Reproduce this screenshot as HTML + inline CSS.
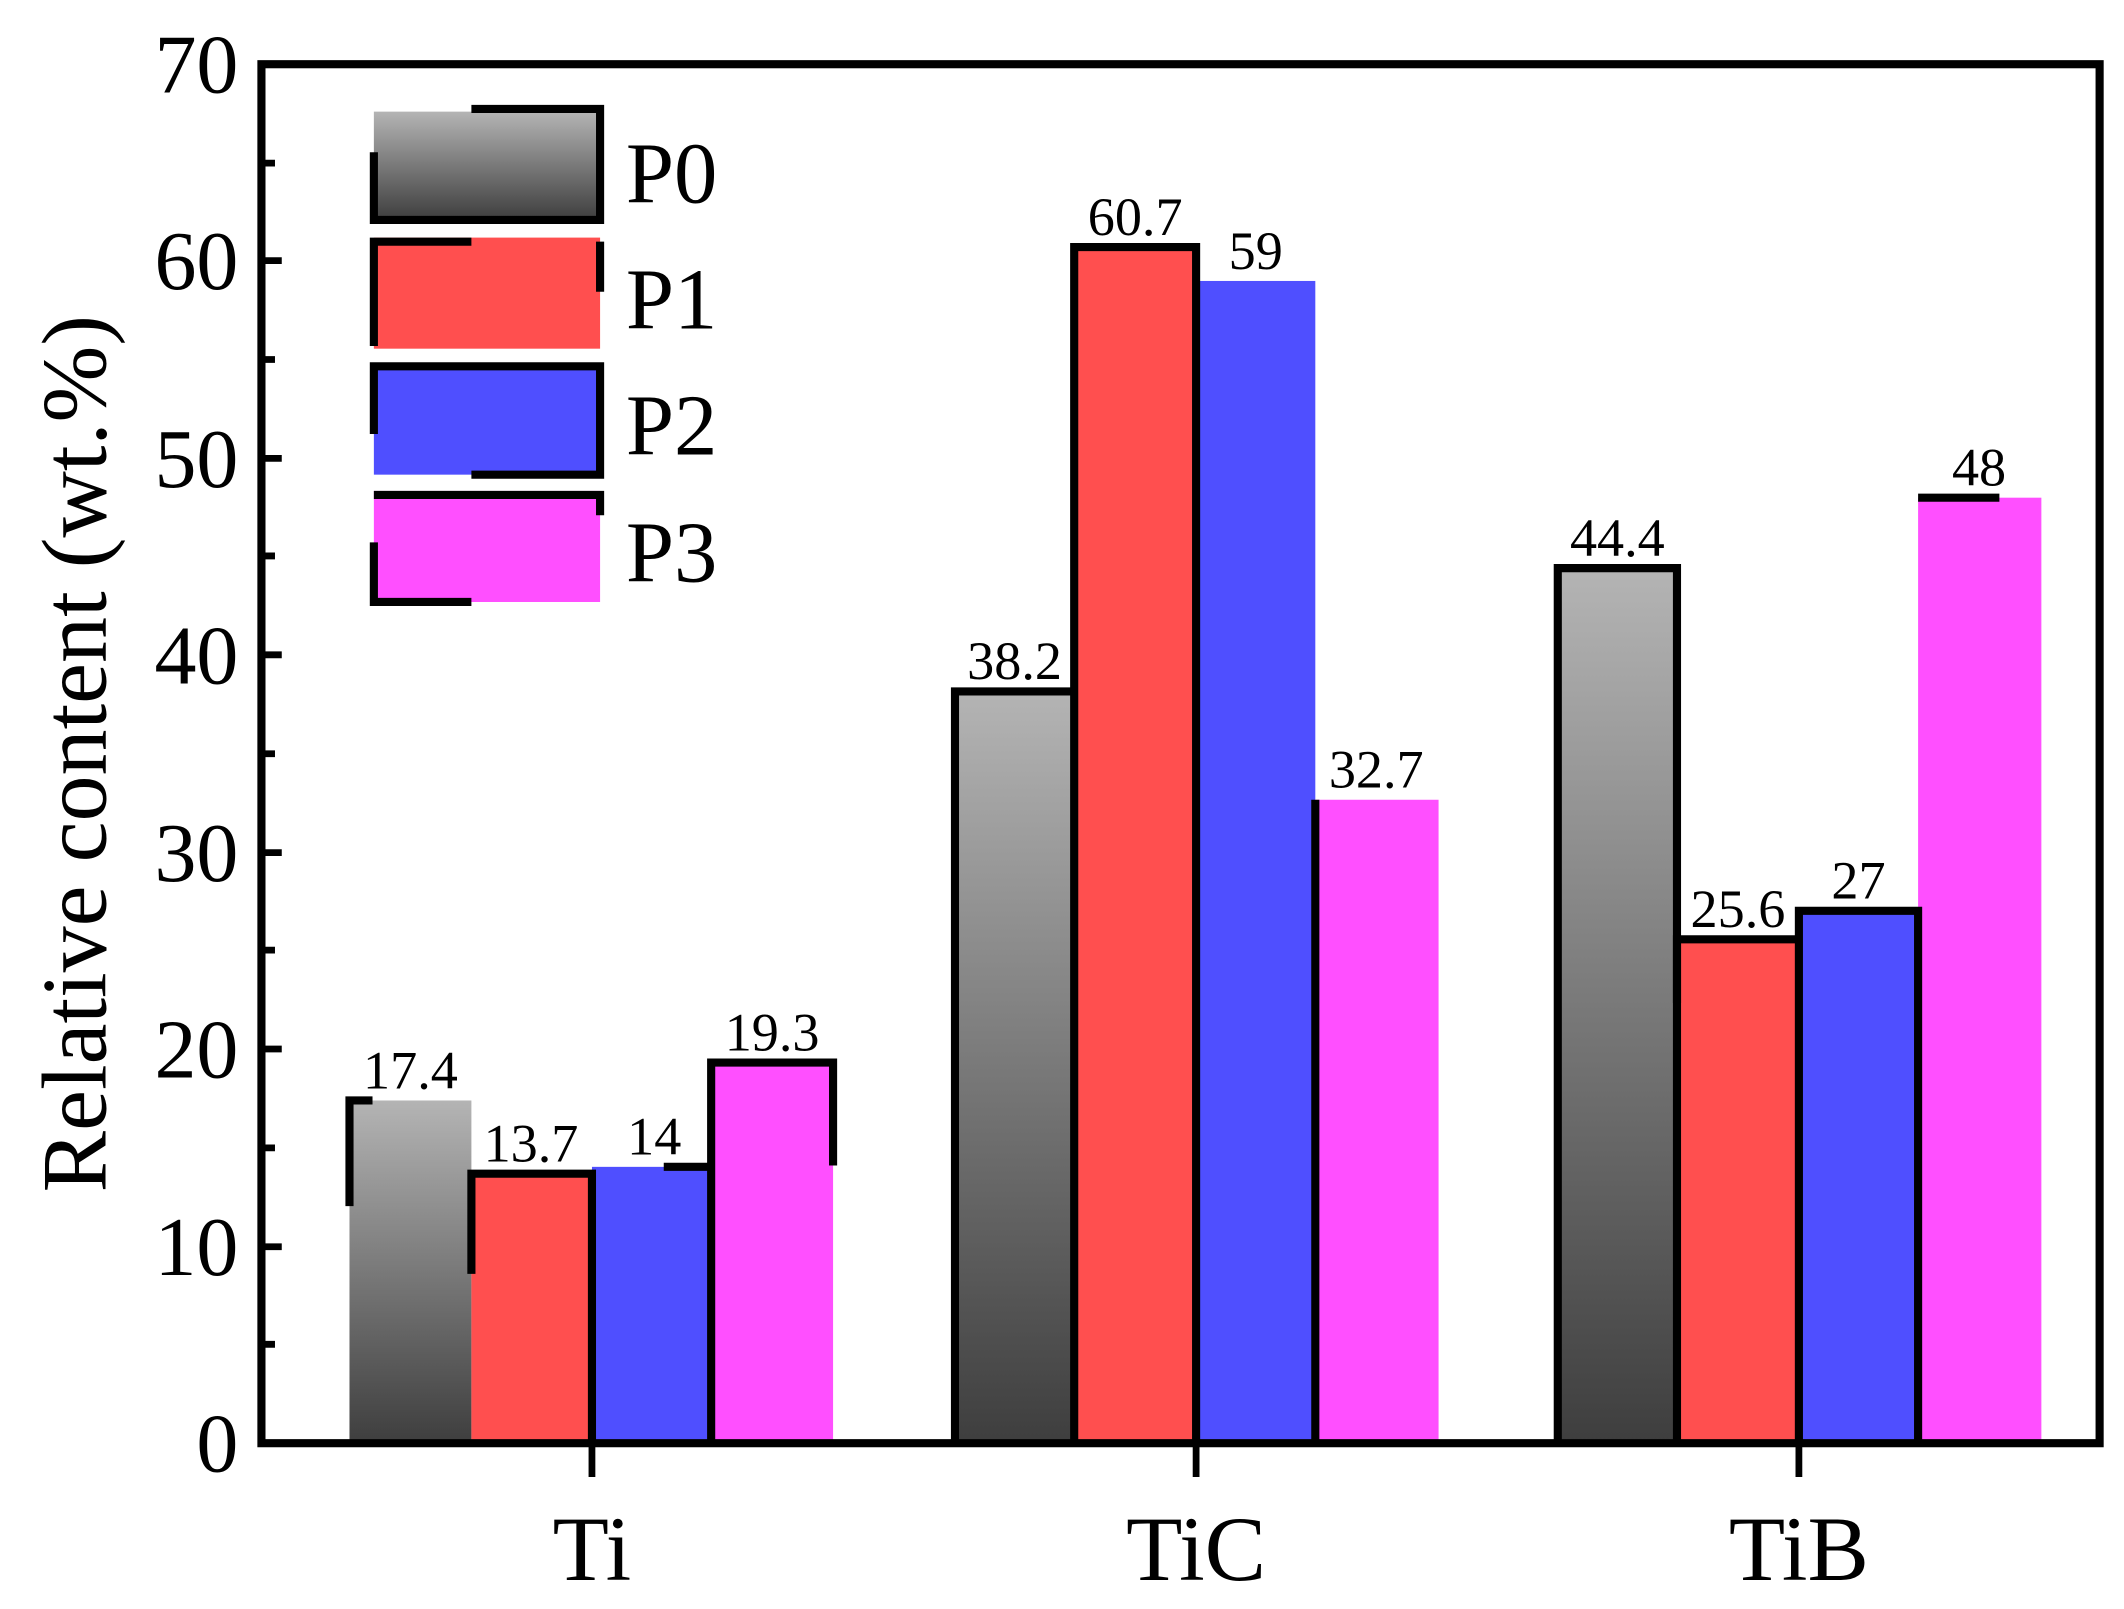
<!DOCTYPE html>
<html><head><style>html,body{margin:0;padding:0;background:#fff}svg{display:block}text{font-family:"Liberation Serif","Times New Roman",serif}</style></head><body>
<svg width="2124" height="1609" viewBox="0 0 1568 1187" xmlns="http://www.w3.org/2000/svg">
<defs>
<linearGradient id="g" x1="0" y1="0" x2="0" y2="1"><stop offset="0" stop-color="#b4b4b4"/><stop offset="1" stop-color="#3e3e3e"/></linearGradient>
<linearGradient id="gl" x1="0" y1="0" x2="0" y2="1"><stop offset="0" stop-color="#b4b4b4"/><stop offset="1" stop-color="#3e3e3e"/></linearGradient>
</defs>
<rect width="1568" height="1187" fill="#fff"/>
<g>
<rect x="258" y="812" width="90" height="253" fill="url(#g)"/>
<rect x="348" y="866" width="89" height="199" fill="#ff4f4f"/>
<rect x="437" y="861" width="88" height="204" fill="#4f4fff"/>
<rect x="525" y="784" width="90" height="281" fill="#ff4fff"/>
<rect x="705" y="510" width="88" height="555" fill="url(#g)"/>
<rect x="793" y="182" width="90" height="883" fill="#ff4f4f"/>
<rect x="883" y="207" width="88" height="858" fill="#4f4fff"/>
<rect x="971" y="590" width="91" height="475" fill="#ff4fff"/>
<rect x="1150" y="419" width="88" height="646" fill="url(#g)"/>
<rect x="1238" y="693" width="90" height="372" fill="#ff4f4f"/>
<rect x="1328" y="672" width="88" height="393" fill="#4f4fff"/>
<rect x="1416" y="367" width="91" height="698" fill="#ff4fff"/>
</g>
<g fill="none" stroke="#000" stroke-width="6">
<path d="M258 890 V812 H275"/>
<path d="M348 940 V866 H437 V940 M437 1065 V940"/>
<path d="M490 861 H525"/>
<path d="M525 1065 V784 H615 V860"/>
<path d="M705 1065 V510 H793"/>
<path d="M793 1065 V182 H883 V1065"/>
<path d="M971 1065 V590"/>
<path d="M1150 1065 V419 H1238 V1065"/>
<path d="M1238 740 V693 H1328"/>
<path d="M1328 1065 V672 H1416 V1065"/>
<path d="M1416 367 H1476"/>
</g>
<g font-size="40" text-anchor="middle" fill="#000">
<text x="303" y="803">17.4</text><text x="392" y="857">13.7</text><text x="483" y="852">14</text><text x="570" y="775">19.3</text>
<text x="749" y="501">38.2</text><text x="838" y="173">60.7</text><text x="927" y="198">59</text><text x="1016" y="581">32.7</text>
<text x="1194" y="410">44.4</text><text x="1283" y="684">25.6</text><text x="1372" y="663">27</text><text x="1461" y="358">48</text>
</g>
<rect x="276" y="82" width="167" height="80" fill="url(#gl)"/>
<rect x="276" y="175" width="167" height="82" fill="#ff4f4f"/>
<rect x="276" y="268" width="167" height="82" fill="#4f4fff"/>
<rect x="276" y="362" width="167" height="82" fill="#ff4fff"/>
<g fill="none" stroke="#000" stroke-width="6">
<path d="M348 80 H443 V162 H276 V112"/>
<path d="M276 255 V178 H348 M443 178 V215"/>
<path d="M276 320 V270 H443 V350 H348"/>
<path d="M276 400 V444 H348 M276 365 H443 V380"/>
</g>
<g font-size="64" fill="#000">
<text x="462" y="149">P0</text><text x="462" y="242">P1</text><text x="462" y="335">P2</text><text x="462" y="429">P3</text>
</g>
<rect x="193" y="47" width="1357" height="1018" fill="none" stroke="#000" stroke-width="6"/>
<g stroke="#000" stroke-width="5">
<path d="M193 1065 H208 M193 920 H208 M193 774 H208 M193 629 H208 M193 483 H208 M193 338 H208 M193 192 H208 M193 47 H208"/>
<path d="M193 992 H203 M193 847 H203 M193 701 H203 M193 556 H203 M193 410 H203 M193 265 H203 M193 120 H203"/>
<path d="M437 1065 V1090 M883 1065 V1090 M1328 1065 V1090"/>
</g>
<g font-size="62" text-anchor="end" fill="#000">
<text x="176" y="1086">0</text><text x="176" y="941">10</text><text x="176" y="795">20</text><text x="176" y="650">30</text>
<text x="176" y="504">40</text><text x="176" y="359">50</text><text x="176" y="213">60</text><text x="176" y="68">70</text>
</g>
<g font-size="68" text-anchor="middle" fill="#000">
<text x="437" y="1166">Ti</text><text x="883" y="1166">TiC</text><text x="1328" y="1166">TiB</text>
<text transform="translate(78 556) rotate(-90)">Relative content (wt.%)</text>
</g>
</svg>
</body></html>
